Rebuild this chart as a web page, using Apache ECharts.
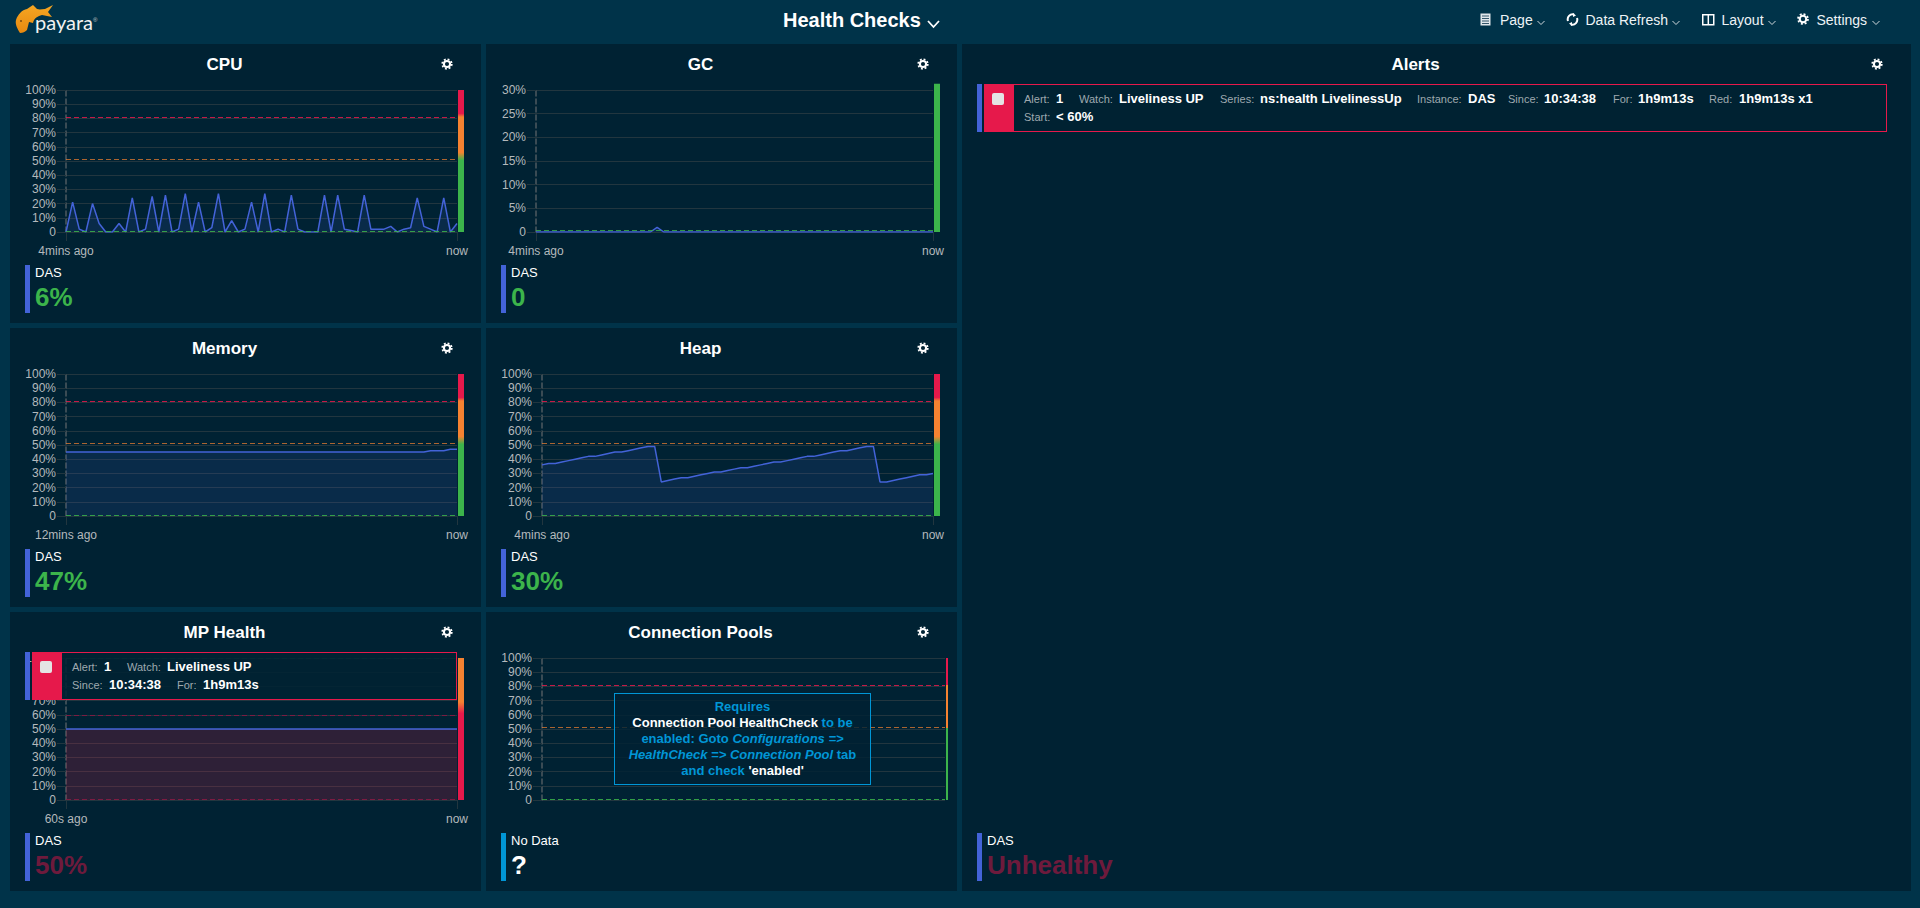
<!DOCTYPE html>
<html>
<head>
<meta charset="utf-8">
<title>Health Checks</title>
<script src="https://cdn.jsdelivr.net/npm/echarts@6/dist/echarts.min.js"></script>
<style>
  html, body { margin: 0; height: 100%; background: #003349; overflow: hidden; }
  body { position: relative; width: 1920px; height: 908px; font-family: "Liberation Sans", Arial, sans-serif; color: #fff; }
  .abs { position: absolute; white-space: nowrap; }
  .logo { left: 12px; top: 2px; width: 90px; height: 40px; }
  .page-title { left: 783px; top: 8px; font-size: 20px; line-height: 24px; font-weight: bold; }
  .nav { top: 12px; font-size: 14px; line-height: 16px; color: #eef3f6; }
  .panel { position: absolute; background: #002233; }
  .chart { position: absolute; left: 0; top: 0; }
  .title { position: absolute; top: 12px; height: 18px; line-height: 18px; font-size: 17px; font-weight: bold; text-align: center; }
  .gear { position: absolute; top: 14px; width: 12px; height: 12px; }
  .bar { position: absolute; left: 15px; top: 221px; width: 5px; height: 48px; background: #4363d8; }
  .inst { position: absolute; left: 25px; top: 221px; font-size: 13px; line-height: 16px; white-space: nowrap; }
  .big { position: absolute; left: 25px; top: 237px; font-size: 26px; line-height: 32px; font-weight: bold; white-space: nowrap; }
  .alert { position: absolute; height: 48px; background: rgba(0, 34, 51, .87); border: 1px solid #e6194b; box-sizing: border-box; }
  .alert .red { position: absolute; left: 0; top: 0; bottom: 0; width: 29px; background: #e6194b; }
  .alert .check { position: absolute; left: 7px; top: 8px; width: 12px; height: 12px; background: #e4e4e4; border-radius: 2px; }
  .alert span { position: absolute; white-space: nowrap; line-height: 16px; }
  .alert .k { font-size: 11px; color: #9fa9af; }
  .alert .v { font-size: 13px; font-weight: bold; color: #fff; }
  .note { position: absolute; box-sizing: border-box; border: 1px solid #0096d6; background: rgba(0, 34, 51, .8); color: #0096d6;
          font-size: 13px; font-weight: bold; line-height: 16px; text-align: center; padding: 5px 8px 0; }
  .note b { color: #fff; }
</style>
</head>
<body>
<svg class="abs logo" viewBox="0 0 90 40">
  <defs><linearGradient id="fish" x1="0" y1="0" x2="0" y2="1"><stop offset="0" stop-color="#f5a623"/><stop offset="1" stop-color="#e8890f"/></linearGradient></defs>
  <path fill="url(#fish)" d="M8 31 C5 26 3 22 4 18 C6 12 10 8 15 7 L21 3 L25 7 C28 8 30 7 33 7 L41 3 L36 10 L40 15 L30 13 C26 14 22 16 21 21 L17 20 L15 28 C13 30 11 31 8 31 Z"/>
  <circle cx="9" cy="19" r="1" fill="#7a4a10"/>
  <text x="23" y="28" font-family="Lato" font-size="20" fill="#f2f2f2">payara</text>
  <text x="81" y="20" font-family="Liberation Sans" font-size="6" fill="#ccc">®</text>
</svg>
<div class="abs page-title">Health Checks</div>
<svg class="abs" style="left:927px;top:20px" width="13" height="9"><polyline points="1,1 6.5,7 12,1" fill="none" stroke="#fff" stroke-width="1.8"/></svg>

<svg class="abs" style="left:1480px;top:13px" width="12" height="13"><rect x=".5" y=".5" width="10" height="12" fill="#dfe6ea"/><path d="M2 3H9M2 5.5H9M2 8H9M2 10.5H9" stroke="#33566a"/></svg>
<div class="abs nav" style="left:1500px">Page</div>
<svg class="abs" style="left:1537px;top:20px" width="8" height="6"><polyline points="0.5,1 4,4.5 7.5,1" fill="none" stroke="#cfd8dc"/></svg>
<svg class="abs" style="left:1566px;top:13px" width="13" height="13"><path d="M2 8 A5 5 0 0 1 8 1.5 M11 5 A5 5 0 0 1 5 11.5" fill="none" stroke="#fff" stroke-width="2"/><path d="M7 0 L10 2.5 L7 4 Z M6 9 L3 10.5 L6 13 Z" fill="#fff"/></svg>
<div class="abs nav" style="left:1585.5px">Data Refresh</div>
<svg class="abs" style="left:1672px;top:20px" width="8" height="6"><polyline points="0.5,1 4,4.5 7.5,1" fill="none" stroke="#cfd8dc"/></svg>
<svg class="abs" style="left:1702px;top:14px" width="13" height="12"><rect x=".75" y=".75" width="11" height="10" fill="none" stroke="#fff" stroke-width="1.5"/><path d="M6.3 1V11" stroke="#fff" stroke-width="1.5"/></svg>
<div class="abs nav" style="left:1721.5px">Layout</div>
<svg class="abs" style="left:1768px;top:20px" width="8" height="6"><polyline points="0.5,1 4,4.5 7.5,1" fill="none" stroke="#cfd8dc"/></svg>
<svg class="abs" style="left:1797px;top:13px" width="12" height="12" viewBox="0 0 14 14"><circle cx="7" cy="7" r="3.8" fill="none" stroke="#fff" stroke-width="2.4"/><circle cx="7" cy="7" r="5.8" fill="none" stroke="#fff" stroke-width="2" stroke-dasharray="2.3 2.25"/></svg>
<div class="abs nav" style="left:1816.5px">Settings</div>
<svg class="abs" style="left:1872px;top:20px" width="8" height="6"><polyline points="0.5,1 4,4.5 7.5,1" fill="none" stroke="#cfd8dc"/></svg>

<script>
// colours used by the monitoring console
const GREEN = '#3cb44b', ORANGE = '#f58231', RED = '#e6194b', BLUE = '#4363d8', INFO = '#0096d6', DIM_RED = '#6e1a3c'

// values, one per poll
const cpuValues = [0, 21, 2, 0, 20, 6, 0, 0, 6, 0, 24, 0, 2, 25, 0, 26, 0, 2, 27, 0, 21, 0, 3, 27, 0, 8, 0, 2, 21, 0,
  27, 0, 2, 0, 26, 2, 0, 0, 0, 26, 0, 26, 2, 1, 0, 26, 2, 2, 2, 4, 0, 2, 3, 24, 4, 2, 0, 24, 0, 6]
const gcValues = [0, 0, 0, 0, 0, 0, 0, 0, 0, 0, 0, 0, 0, 0, 0, 0, 0, 0, 1, 0,
  0, 0, 0, 0, 0, 0, 0, 0, 0, 0, 0, 0, 0, 0, 0, 0, 0, 0, 0, 0,
  0, 0, 0, 0, 0, 0, 0, 0, 0, 0, 0, 0, 0, 0, 0, 0, 0, 0, 0, 0]
const memoryValues = [45, 45, 45, 45, 45, 45, 45, 45, 45, 45, 45, 45, 45, 45, 45, 45, 45, 45, 45, 45,
  45, 45, 45, 45, 45, 45, 45, 45, 45, 45, 45, 45, 45, 45, 45, 45, 45, 45, 45, 45,
  45, 45, 45, 45, 45, 45, 45, 45, 45, 45, 45, 45, 45, 45, 45, 46, 46, 46, 47, 47]
const heapValues = [36, 37, 37, 38, 39, 40, 41, 42, 42, 43, 44, 45, 45, 46, 47, 48, 49, 49, 24, 25, 26, 27, 27, 28, 29, 30, 31, 31, 32, 33,
  34, 34, 35, 36, 37, 38, 38, 39, 40, 41, 42, 42, 43, 44, 45, 46, 46, 47, 48, 49, 49, 24, 24, 25, 26, 27, 28, 29, 29, 30]
const mpHealthValues = [50, 50, 50, 50, 50, 50, 50, 50, 50, 50, 50, 50, 50, 50, 50, 50, 50, 50, 50, 50,
  50, 50, 50, 50, 50, 50, 50, 50, 50, 50, 50, 50, 50, 50, 50, 50, 50, 50, 50, 50,
  50, 50, 50, 50, 50, 50, 50, 50, 50, 50, 50, 50, 50, 50, 50, 50, 50, 50, 50, 50]
const poolValues = []

const cpuTimes = ['4mins ago', 'now']
const gcTimes = ['4mins ago', 'now']
const memoryTimes = ['12mins ago', 'now']
const heapTimes = ['4mins ago', 'now']
const mpHealthTimes = ['60s ago', 'now']

const percentMax = 100
const gcMax = 30
const gcGaugeMax = 31.3
const defaultLines = [[81, 'rgba(230,25,75,.85)'], [51, 'rgba(245,130,49,.7)'], [0.6, 'rgba(60,180,75,.85)']]
const gcLines = [[0.4, 'rgba(60,180,75,.8)']]
const mpLines = [[100, 'rgba(60,180,75,.4)'], [60, '#7c1c42'], [0.4, '#7c1c42']]

const defaultGauge = [[0, RED], [0.165, RED], [0.19, ORANGE], [0.44, ORANGE], [0.495, GREEN], [1, GREEN]]
const gcGauge = [[0, GREEN], [1, GREEN]]
const mpGauge = [[0, ORANGE], [0.31, ORANGE], [0.39, RED], [1, RED]]
const poolGauge = [[0, RED], [0.19, RED], [0.19, ORANGE], [0.49, ORANGE], [0.49, GREEN], [1, GREEN]]

const panels = [
  { title: 'CPU', x: 10, y: 44, w: 471, h: 279, left: 56, right: 447, max: percentMax, step: 10, values: cpuValues, times: cpuTimes, lines: defaultLines, gauge: defaultGauge, inst: 'DAS', big: '6%', color: GREEN },
  { title: 'GC', x: 486, y: 44, w: 471, h: 279, left: 50, right: 447, max: gcMax, step: 5, gaugeMax: gcGaugeMax, values: gcValues, times: gcTimes, lines: gcLines, gauge: gcGauge, inst: 'DAS', big: '0', color: GREEN },
  { title: 'Memory', x: 10, y: 328, w: 471, h: 279, left: 56, right: 447, max: percentMax, step: 10, values: memoryValues, times: memoryTimes, lines: defaultLines, gauge: defaultGauge, inst: 'DAS', big: '47%', color: GREEN },
  { title: 'Heap', x: 486, y: 328, w: 471, h: 279, left: 56, right: 447, max: percentMax, step: 10, values: heapValues, times: heapTimes, lines: defaultLines, gauge: defaultGauge, inst: 'DAS', big: '30%', color: GREEN },
  { title: 'MP Health', x: 10, y: 612, w: 471, h: 279, left: 56, right: 447, max: percentMax, step: 10, values: mpHealthValues, times: mpHealthTimes, lines: mpLines, gauge: mpGauge, inst: 'DAS', big: '50%', color: DIM_RED, area: 'rgba(230,25,75,.2)' },
  { title: 'Connection Pools', x: 486, y: 612, w: 471, h: 279, left: 56, right: 459, max: percentMax, step: 10, values: poolValues, times: ['', ''], lines: defaultLines, gauge: poolGauge, gaugeWidth: 2, inst: 'No Data', big: '?', color: '#fff', barColor: INFO, noData: true },
  { title: 'Alerts', x: 962, y: 44, w: 949, h: 847, inst: 'DAS', big: 'Unhealthy', color: DIM_RED, legendTop: 789 }
]

const GRID_COLOR = '#22363f'
const LABEL_COLOR = '#b4b9bc'

function optionFor(p) {
  const count = Math.max(p.values.length, 2)
  const categories = []
  for (let i = 0; i < count; i++) categories.push(i === 0 ? p.times[0] : i === count - 1 ? p.times[1] : '')
  const onEnds = i => i === 0 || i === count - 1
  const gaugeMax = p.gaugeMax || p.max
  const gridHeight = 142
  const gaugeHeight = gridHeight * gaugeMax / p.max
  return {
    animation: false,
    textStyle: { fontFamily: 'Liberation Sans' },
    grid: [
      { left: p.left, top: 46, width: p.right - p.left, height: gridHeight },
      { left: p.right + 1, top: 46 + gridHeight - gaugeHeight, width: p.gaugeWidth || 6, height: gaugeHeight }
    ],
    xAxis: [
      {
        type: 'category',
        boundaryGap: false,
        data: categories,
        axisLine: { show: false },
        axisTick: { show: !p.noData, length: 9, interval: onEnds, lineStyle: { color: GRID_COLOR } },
        axisLabel: { show: !p.noData, interval: onEnds, hideOverlap: false, color: LABEL_COLOR, fontSize: 12, margin: 13 },
        splitLine: { show: false }
      },
      { type: 'category', gridIndex: 1, show: false, data: ['gauge'] }
    ],
    yAxis: [
      {
        type: 'value',
        min: 0,
        max: p.max,
        interval: p.step,
        axisLine: { show: true, lineStyle: { color: '#4d5a60', type: [5, 3], width: 1.5 } },
        axisTick: { show: true, length: 9, lineStyle: { color: GRID_COLOR } },
        axisLabel: { color: LABEL_COLOR, fontSize: 12, margin: 10, formatter: v => (v === 0 ? '0' : v + '%') },
        splitLine: { lineStyle: { color: GRID_COLOR, width: 1.2 } }
      },
      { type: 'value', gridIndex: 1, show: false, min: 0, max: gaugeMax }
    ],
    series: [
      {
        type: 'line',
        data: p.values,
        showSymbol: false,
        lineStyle: { color: BLUE, width: 1.5 },
        areaStyle: { color: p.area || 'rgba(67,99,216,.14)', opacity: 1 },
        silent: true,
        markLine: {
          silent: true,
          symbol: 'none',
          label: { show: false },
          data: p.lines.map(l => ({ yAxis: l[0], lineStyle: { color: l[1], type: [5, 3], width: 1.2 } }))
        }
      },
      {
        type: 'bar',
        xAxisIndex: 1,
        yAxisIndex: 1,
        barWidth: '100%',
        silent: true,
        data: [gaugeMax],
        itemStyle: {
          color: { type: 'linear', x: 0, y: 0, x2: 0, y2: 1, colorStops: p.gauge.map(s => ({ offset: s[0], color: s[1] })) }
        }
      }
    ]
  }
}

function addPanel(p) {
  const el = document.createElement('div')
  el.className = 'panel'
  el.style.cssText = `left:${p.x}px;top:${p.y}px;width:${p.w}px;height:${p.h}px`
  const legendTop = p.legendTop || 221
  el.innerHTML = `
    <div class="chart" style="width:${p.w}px;height:${p.h}px"></div>
    <div class="title" style="left:0;width:${p.w - 42}px">${p.title}</div>
    <svg class="gear" style="left:${p.w - 40}px" viewBox="0 0 14 14"><circle cx="7" cy="7" r="3.6" fill="none" stroke="#fff" stroke-width="2.4"/><circle cx="7" cy="7" r="5.6" fill="none" stroke="#fff" stroke-width="2" stroke-dasharray="2.2 2.2"/></svg>
    <div class="bar" style="top:${legendTop}px;background:${p.barColor || BLUE}"></div>
    <div class="inst" style="top:${legendTop}px">${p.inst}</div>
    <div class="big" style="top:${legendTop + 16}px;color:${p.color}">${p.big}</div>`
  document.body.appendChild(el)
  if (p.values) {
    const chart = echarts.init(el.querySelector('.chart'), null, { renderer: 'svg' })
    chart.setOption(optionFor(p))
  }
  return el
}

// key/value cells of an alert row, positions relative to the alert box
function alertBox(parent, left, top, width, cells) {
  const bar = document.createElement('div')
  bar.className = 'bar'
  bar.style.cssText = `left:${left - 7}px;top:${top}px`
  parent.appendChild(bar)
  const box = document.createElement('div')
  box.className = 'alert'
  box.style.cssText = `left:${left}px;top:${top}px;width:${width}px`
  box.innerHTML = '<div class="red"><div class="check"></div></div>' +
    cells.map(c => `<span class="${c[0]}" style="left:${c[1]}px;top:${c[2]}px">${c[3]}</span>`).join('')
  parent.appendChild(box)
}

const els = panels.map(addPanel)

alertBox(els[4], 22, 40, 425, [
  ['k', 39, 6, 'Alert:'], ['v', 71, 6, '1'], ['k', 94, 6, 'Watch:'], ['v', 134, 6, 'Liveliness UP'],
  ['k', 39, 24, 'Since:'], ['v', 76, 24, '10:34:38'], ['k', 144, 24, 'For:'], ['v', 170, 24, '1h9m13s']
])
alertBox(els[6], 22, 40, 903, [
  ['k', 39, 6, 'Alert:'], ['v', 71, 6, '1'], ['k', 94, 6, 'Watch:'], ['v', 134, 6, 'Liveliness UP'],
  ['k', 235, 6, 'Series:'], ['v', 275, 6, 'ns:health LivelinessUp'], ['k', 432, 6, 'Instance:'], ['v', 483, 6, 'DAS'],
  ['k', 523, 6, 'Since:'], ['v', 559, 6, '10:34:38'], ['k', 628, 6, 'For:'], ['v', 653, 6, '1h9m13s'],
  ['k', 724, 6, 'Red:'], ['v', 754, 6, '1h9m13s x1'],
  ['k', 39, 24, 'Start:'], ['v', 71, 24, '&lt; 60%']
])

const note = document.createElement('div')
note.className = 'note'
note.style.cssText = 'left:128px;top:81px;width:257px;height:92px'
note.innerHTML = "Requires<br><b>Connection Pool HealthCheck</b> to be<br>enabled: Goto <i>Configurations =&gt;</i><br><i>HealthCheck =&gt; Connection Pool</i> tab<br>and check <b>'enabled'</b>"
els[5].appendChild(note)
</script>
</body>
</html>
